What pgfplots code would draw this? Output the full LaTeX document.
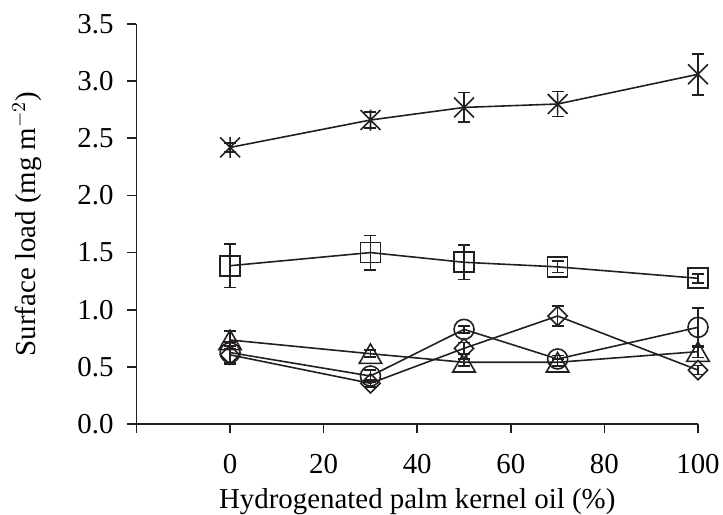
\documentclass[border=0pt]{standalone}
\usepackage{fontspec}
\setmainfont{Liberation Serif}
\usepackage{pgfplots}
\pgfplotsset{compat=1.18}

\definecolor{ink}{HTML}{231F20}

% Excel-style star: an X with a vertical stroke
\pgfdeclareplotmark{xstar}{%
  \pgfpathmoveto{\pgfqpoint{-0.7071\pgfplotmarksize}{-0.7071\pgfplotmarksize}}%
  \pgfpathlineto{\pgfqpoint{0.7071\pgfplotmarksize}{0.7071\pgfplotmarksize}}%
  \pgfpathmoveto{\pgfqpoint{-0.7071\pgfplotmarksize}{0.7071\pgfplotmarksize}}%
  \pgfpathlineto{\pgfqpoint{0.7071\pgfplotmarksize}{-0.7071\pgfplotmarksize}}%
  \pgfpathmoveto{\pgfqpoint{0pt}{-0.75\pgfplotmarksize}}%
  \pgfpathlineto{\pgfqpoint{0pt}{0.75\pgfplotmarksize}}%
  \pgfusepathqstroke}

\begin{document}
\fontsize{14.5}{17}\selectfont
\begin{tikzpicture}
\begin{axis}[
  name=ax,
  width=280.75bp, height=200bp, scale only axis,
  xmin=-20, xmax=100, ymin=0, ymax=3.5,
  axis lines=left, axis line style={-, ink, line width=0.9pt},
  xtick={-20,0,20,40,60,80,100},
  xticklabels={,0,20,40,60,80,100},
  ytick={0,0.5,...,3.5},
  yticklabel style={/pgf/number format/fixed, /pgf/number format/fixed zerofill,
    /pgf/number format/precision=1, xshift=-2bp},
  /pgf/number format/assume math mode=true,
  tick align=outside, tick style={ink, line width=0.8pt},
  major tick length=4.5bp,
  xticklabel style={yshift=-5.5bp},
  xlabel={Hydrogenated palm kernel oil (\%)},
  ylabel={Surface load (mg m$^{-2}$)},
  xlabel style={yshift=2.5bp},
  ylabel style={yshift=8bp},
  every axis plot/.append style={ink, line width=0.8pt},
  error bars/error bar style={ink, line width=0.8pt},
  error bars/error mark options={rotate=90, mark size=3bp, ink, line width=0.8pt},
  clip=false,
]
% star series
\addplot[ink, mark=xstar, mark size=7bp, mark options={solid},
  error bars/.cd, y dir=both, y explicit] coordinates {
  (0,2.42) +- (0,0.04)
  (30,2.66) +- (0,0.07)
  (50,2.77) +- (0,0.13)
  (70,2.80) +- (0,0.11)
  (100,3.06) +- (0,0.18)
};
% square series
\addplot[ink, mark=square, mark size=5bp, mark options={solid, fill=none},
  error bars/.cd, y dir=both, y explicit] coordinates {
  (0,1.385) +- (0,0.19)
  (30,1.50) +- (0,0.15)
  (50,1.415) +- (0,0.15)
  (70,1.375) +- (0,0.05)
  (100,1.275) +- (0,0.04)
};
% triangle series
\addplot[ink, mark=triangle, mark size=6.5bp, mark options={solid, fill=none, yshift=-1.6bp},
  error bars/.cd, y dir=both, y explicit] coordinates {
  (0,0.735) +- (0,0.08)
  (30,0.615) +- (0,0.03)
  (50,0.54) +- (0,0.03)
  (70,0.54) +- (0,0.03)
  (100,0.633) +- (0,0.05)
};
% circle series
\addplot[ink, mark=o, mark size=5bp, mark options={solid, fill=none},
  error bars/.cd, y dir=both, y explicit] coordinates {
  (0,0.625) +- (0,0.09)
  (30,0.42) +- (0,0.05)
  (50,0.828) +- (0,0.03)
  (70,0.569) +- (0,0.03)
  (100,0.846) +- (0,0.17)
};
% diamond series
\addplot[ink, mark=square, mark size=3.4bp, mark options={solid, fill=none, rotate=45},
  error bars/.cd, y dir=both, y explicit] coordinates {
  (0,0.605) +- (0,0.08)
  (30,0.356) +- (0,0.03)
  (50,0.662) +- (0,0.05)
  (70,0.945) +- (0,0.085)
  (100,0.472) +- (0,0.04)
};
\end{axis}
\pgfresetboundingbox
\useasboundingbox (ax.south west) ++(-68.25bp,-45.5bp) rectangle ++(361.5bp,257.5bp);
\end{tikzpicture}
\end{document}
